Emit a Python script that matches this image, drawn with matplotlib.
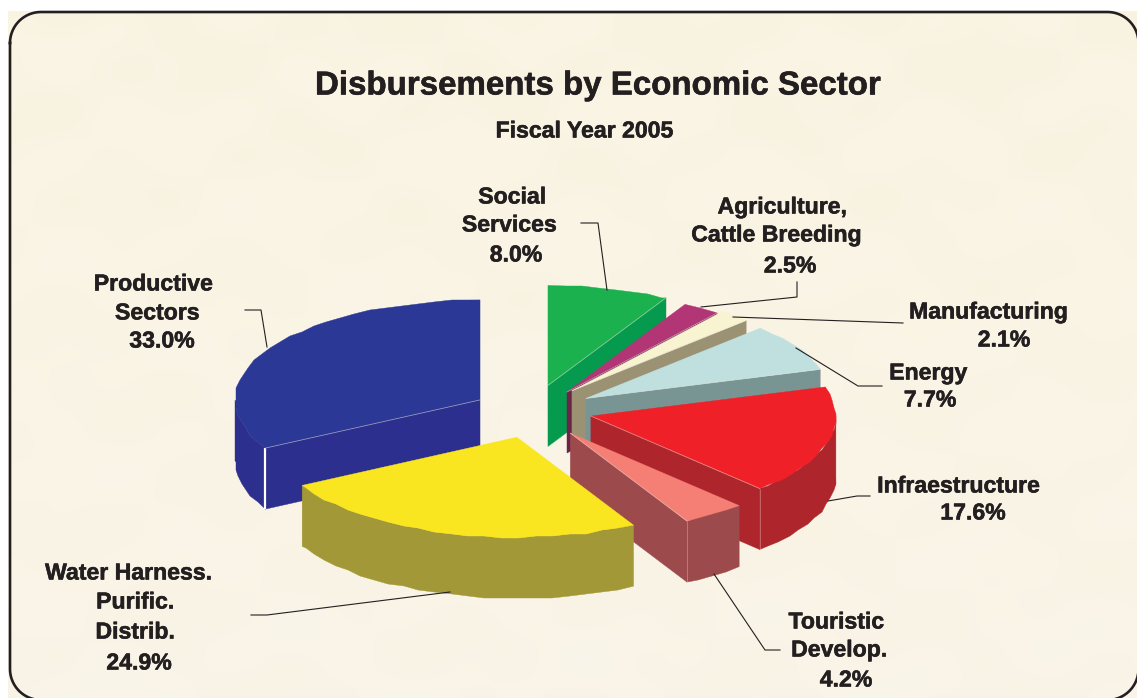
import numpy as np
import matplotlib
matplotlib.use("Agg")
import matplotlib.pyplot as plt
import matplotlib.patheffects as pe
from matplotlib.patches import Polygon

plt.rcParams['font.family'] = ['Liberation Sans', 'DejaVu Sans']

# data, clockwise from 12 o'clock
sectors = ["Social Services", "Agriculture, Cattle Breeding", "Manufacturing", "Energy",
           "Infraestructure", "Touristic Develop.", "Water Harness. Purific. Distrib.", "Productive Sectors"]
shares = [8.0, 2.5, 2.1, 7.7, 17.6, 4.2, 24.9, 33.0]

# styling of the slices
explode = [0.295, 0.275, 0.258, 0.266, 0.257, 0.28, 0.19, 0.237]
lift = [1, 2, -3, -1, -3.5, -2.5, 6, -1]
top_colors = ["#1CB14F", "#B23575", "#F8F3D0", "#C0E0E0", "#EF2027", "#F67F75", "#F9E620", "#2C3895"]
side_colors = ["#069A4F", "#6B2348", "#9B9273", "#789594", "#AE252C", "#9C4A4C", "#A39838", "#2D2F8E"]
draw_order = [0, 7, 1, 2, 3, 4, 5, 6]

cx, cy = 530, 413
rx, ry = 245, 100
depth = 61
ink = "#231F20"
bolder = [pe.withStroke(linewidth=0.4, foreground=ink)]


def rim(ox, oy, a, b, step=4.0, grid=2.0):
    # bumpy outer edge like the original artwork
    th = np.arange(a, b, step)
    th = np.append(th, b)
    x = ox + rx * np.sin(np.radians(th))
    y = oy - ry * np.cos(np.radians(th))
    if len(th) > 2:
        x[1:-1] = np.round(x[1:-1] / grid) * grid
        y[1:-1] = np.round(y[1:-1] / grid) * grid
    return np.column_stack([x, y])


fig = plt.figure(figsize=(11.37, 6.98), dpi=100)
ax = fig.add_axes([0, 0, 1, 1])

# parchment background
gx, gy = np.meshgrid(np.linspace(0, 1, 280), np.linspace(0, 1, 170))
mottle = (np.sin(gx * 23 + gy * 9) * np.sin(gy * 31 - gx * 5) + 0.6 * np.sin(gx * 61 + 2) * np.sin(gy * 47 + 1)) / 1.6
base = np.array([249, 244, 226]) / 255.0
tex = np.clip(base[None, None, :] + (mottle[:, :, None] * np.array([0.5, 1, 2.5]) + (gy[:, :, None] * np.array([0, 0, 5]))) / 255.0, 0, 1)
ax.imshow(tex, extent=(8, 1137, 698, 11), aspect='auto', interpolation='bicubic', zorder=0)

# rounded frame, runs off the right and bottom of the page
left, right, top, bottom, r = 10, 1138.5, 12, 700, 31
t = np.linspace(0, np.pi / 2, 20)
fx = np.concatenate([left + r - r * np.cos(t), right - r + r * np.sin(t), right - r + r * np.cos(t), left + r - r * np.sin(t), [left]])
fy = np.concatenate([top + r - r * np.sin(t), top + r - r * np.cos(t), bottom - r + r * np.sin(t), bottom - r + r * np.cos(t), [top + r]])
ax.plot(fx, fy, color=ink, lw=1.9, zorder=1)

# exploded 3d pie, built from the shares
edges = np.concatenate([[0], np.cumsum(shares)]) / np.sum(shares) * 360.0
z = 2
for i in draw_order:
    s, e = edges[i], edges[i + 1]
    mid = np.radians((s + e) / 2)
    ox = cx + explode[i] * rx * np.sin(mid)
    oy = cy - explode[i] * ry * np.cos(mid) + lift[i]
    apex = np.array([ox, oy])
    drop = np.array([0, depth])
    top_rim = rim(ox, oy, s, e)

    # cut faces seen by the viewer
    corners = []
    if s > 180:
        corners.append(top_rim[0])
    if e < 180:
        corners.append(top_rim[-1])
    for c in corners:
        ax.add_patch(Polygon([apex, c, c + drop, apex + drop], fc=side_colors[i], ec=side_colors[i], lw=0.3, zorder=z))

    # outer wall on the front half
    a, b = max(s, 90), min(e, 270)
    if a < b:
        wall = rim(ox, oy, a, b)
        low = rim(ox, oy + depth, a, b)
        ax.add_patch(Polygon(np.vstack([wall, low[::-1]]), fc=side_colors[i], ec=side_colors[i], lw=0.3, zorder=z))

    for c in corners:
        col = "white" if i == 7 else "#E8D8C8"
        ax.plot([c[0], c[0]], [c[1], c[1] + depth], color=col, lw=1.6 if i == 7 else 0.5, alpha=1 if i == 7 else 0.5,
                solid_capstyle='butt', zorder=z + 0.5)

    ax.add_patch(Polygon(np.vstack([apex, top_rim]), fc=top_colors[i], ec=top_colors[i], lw=0.3, zorder=z + 0.6))
    for c in corners:
        ax.plot([apex[0], c[0]], [apex[1], c[1]], color="#E8E8E0", lw=0.6, alpha=0.5, zorder=z + 0.7)
    z += 1

# leader lines
leaders = [
    [(581, 223), (598, 223), (607, 290)],
    [(797, 282), (797, 297), (701, 307)],
    [(733, 317), (903, 323)],
    [(796, 348), (858, 386), (882, 386)],
    [(828, 501), (857, 496), (870, 496)],
    [(714, 574), (765, 650), (780, 650)],
    [(251, 615), (267, 615), (450, 592)],
    [(245, 310), (261, 310), (267, 347)],
]
for pts in leaders:
    xs, ys = zip(*pts)
    ax.plot(xs, ys, color=ink, lw=0.8, zorder=30)

# text, line by line as in the original
ax.text(597, 86, "Disbursements by Economic Sector", fontsize=23.8, fontweight='bold', color=ink,
        ha='center', va='center', zorder=31, path_effects=bolder)
ax.text(584, 131, "Fiscal Year 2005", fontsize=16.6, fontweight='bold', color=ink, ha='center', va='center',
        zorder=31, path_effects=bolder)

label_lines = ["Social", "Services", "8.0%",
               "Agriculture,", "Cattle Breeding", "2.5%",
               "Manufacturing", "2.1%",
               "Energy", "7.7%",
               "Infraestructure", "17.6%",
               "Touristic", "Develop.", "4.2%",
               "Water Harness.", "Purific.", "Distrib.", "24.9%",
               "Productive", "Sectors", "33.0%"]
label_x = [512, 509, 516, 782, 776, 790, 988, 1004, 928, 930, 958, 973, 836, 839, 846, 128, 135, 135, 139, 153, 157, 162]
label_y = [197, 225, 255, 207, 235, 266, 312, 340, 373, 400, 486, 513, 622, 650, 680, 573, 602, 632, 663, 284, 313, 341]
for t_, x, y in zip(label_lines, label_x, label_y):
    ax.text(x, y, t_, fontsize=16.6, fontweight='bold', color=ink, ha='center', va='center', zorder=31,
            path_effects=bolder)

ax.set_xlim(0, 1137)
ax.set_ylim(698, 0)
ax.axis('off')
fig.savefig("out.png", dpi=100, facecolor="white")
